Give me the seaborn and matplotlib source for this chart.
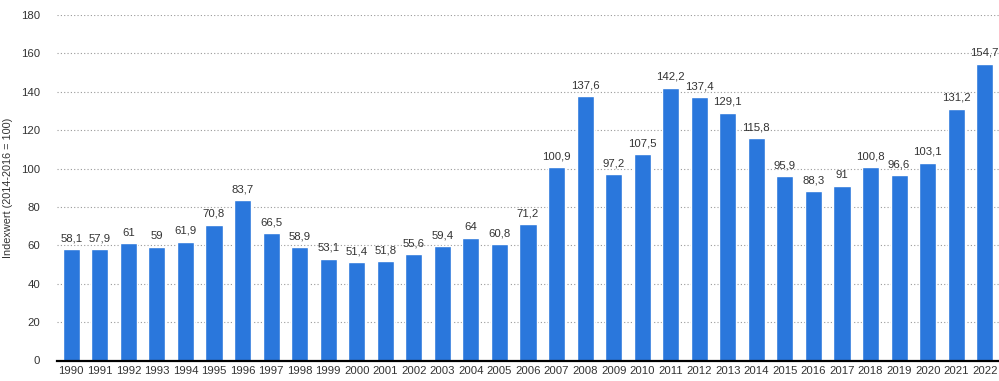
import matplotlib.pyplot as plt
import pandas as pd
import seaborn as sns

years = [str(y) for y in range(1990, 2023)]
values = [58.1, 57.9, 61, 59, 61.9, 70.8, 83.7, 66.5, 58.9, 53.1,
          51.4, 51.8, 55.6, 59.4, 64, 60.8, 71.2, 100.9, 137.6, 97.2,
          107.5, 142.2, 137.4, 129.1, 115.8, 95.9, 88.3, 91, 100.8, 96.6,
          103.1, 131.2, 154.7]

BAR = "#2a77dc"
TXT = "#333333"


def fmt(v):
    return f"{v:g}".replace(".", ",")


def main() -> None:
    sns.set_theme(style="white")
    plt.rcParams["font.family"] = ["Liberation Sans", "DejaVu Sans"]

    df = pd.DataFrame({"year": years, "value": values})

    fig = plt.figure(figsize=(9.99, 3.81), dpi=100)
    ax = fig.add_axes([57 / 999, 1 - 360.5 / 381, 942 / 999, 345.5 / 381])

    sns.barplot(data=df, x="year", y="value", color=BAR, width=0.6,
                saturation=1, ax=ax, zorder=3)

    for i, v in enumerate(values):
        ax.text(i, v + 3, fmt(v), ha="center", va="bottom", fontsize=8.2, color=TXT)

    ax.set_ylim(0, 180)
    ax.set_xlim(-0.5, len(years) - 0.5)
    ax.set_yticks(range(0, 181, 20))
    ax.yaxis.grid(True, linestyle=(0, (1, 2)), color="#999999", linewidth=0.8, zorder=0)
    ax.set_axisbelow(True)

    for side in ["top", "right", "left"]:
        ax.spines[side].set_visible(False)
    ax.spines["bottom"].set_color("black")
    ax.spines["bottom"].set_linewidth(1.6)
    ax.spines["bottom"].set_zorder(5)

    ax.tick_params(axis="both", length=0, labelsize=8.2, colors=TXT)
    ax.tick_params(axis="y", pad=12)
    ax.tick_params(axis="x", pad=4)
    ax.set_xlabel("")
    ax.set_ylabel("Indexwert (2014-2016 = 100)", fontsize=7.8, color=TXT, labelpad=6)

    fig.savefig("out.png", dpi=100)
    plt.close(fig)


if __name__ == "__main__":
    main()
